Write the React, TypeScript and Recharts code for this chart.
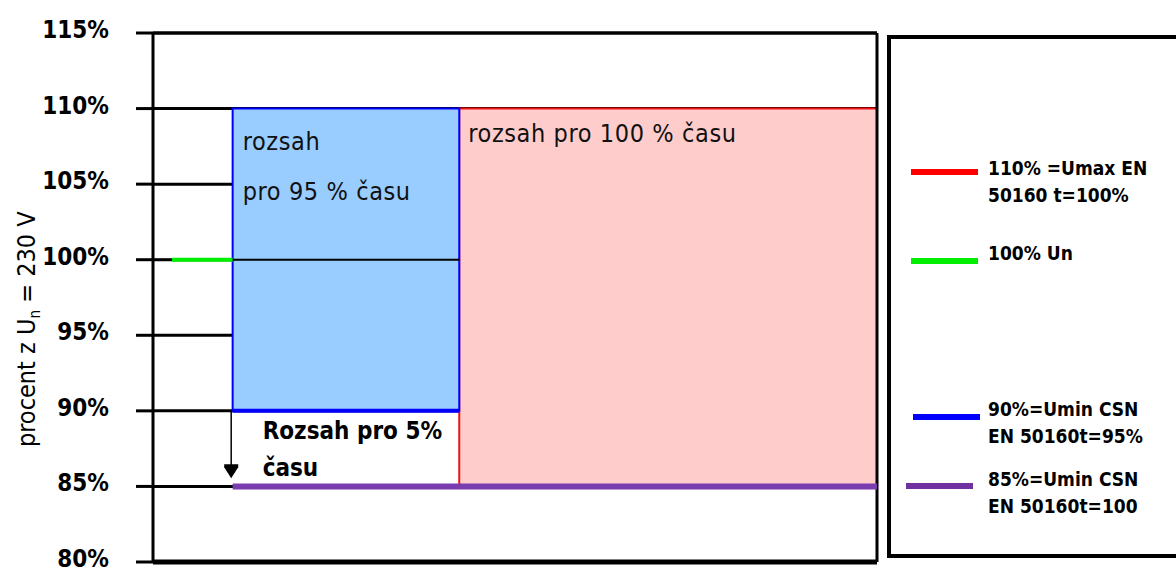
import React from "react";
import {
  LineChart,
  Line,
  XAxis,
  YAxis,
  CartesianGrid,
  ReferenceArea,
  ReferenceLine,
  ReferenceDot,
  Legend,
} from "recharts";

// y axis (percent of Un = 230 V)
const yTicks = [80, 85, 90, 95, 100, 105, 110, 115];

// bands, x is just a position along the plot (0..100)
const band95X = [11, 42.3];
const band95Y = [90, 110];
const band100X = [42.3, 100];
const band100Y = [85, 110];
const band5X = [11, 42.3];
const band5Y = [85, 90];

// limit lines
const unLine = [
  { x: 2.6, y: 100 },
  { x: 11, y: 100 },
];
const blackLine100 = [
  { x: 0, y: 100 },
  { x: 42.3, y: 100 },
];
const umin95Line = [
  { x: 11, y: 90 },
  { x: 42.3, y: 90 },
];
const umin100Line = [
  { x: 11, y: 85 },
  { x: 100.4, y: 85 },
];

// arrow from 90% down to 85%
const arrowX = 10.8;
const arrowShaftY = [90, 86.4];
const arrowHeadY = 86;

const band95Text = ["rozsah", "pro 95 % času"];
const band100Text = ["rozsah pro 100 % času"];
const band5Text = ["Rozsah pro 5%", "času"];

const legendItems = [
  { color: "#ff0000", lines: ["110% =Umax EN", "50160 t=100%"] },
  { color: "#00ee00", lines: ["100% Un"] },
  { color: "#0000ff", lines: ["90%=Umin CSN", "EN 50160t=95%"] },
  { color: "#7030a0", lines: ["85%=Umin CSN", "EN 50160t=100"] },
];

const FONT = "'DejaVu Sans Condensed', 'DejaVu Sans', sans-serif";

const makeTextLabel =
  (lines: string[], dx: number, dys: number[], opts: { size: number; weight: string; fill: string; spacing?: number }) =>
  (props: any) => {
    const vb = props.viewBox || {};
    return (
      <g>
        {lines.map((t, i) => (
          <text
            key={i}
            x={vb.x + dx}
            y={vb.y + dys[i]}
            fontFamily={FONT}
            fontStretch="condensed"
            fontSize={opts.size}
            fontWeight={opts.weight}
            letterSpacing={opts.spacing ?? 0}
            fill={opts.fill}
          >
            {t}
          </text>
        ))}
      </g>
    );
  };

const YTick = (props: any) => {
  const { x, y, payload } = props;
  return (
    <text
      x={x}
      y={y}
      dy={5}
      textAnchor="end"
      fontFamily={FONT}
      fontStretch="condensed"
      fontSize={24}
      fontWeight="bold"
      fill="#000"
    >
      {`${payload.value}%`}
    </text>
  );
};

const YLabel = (props: any) => {
  const vb = props.viewBox || { x: 0, y: 33, width: 153, height: 530 };
  const cx = 35;
  const cy = vb.y + vb.height * 0.56;
  return (
    <text
      x={cx}
      y={cy}
      transform={`rotate(-90, ${cx}, ${cy})`}
      textAnchor="middle"
      fontFamily={FONT}
      fontStretch="condensed"
      fontSize={25}
      fill="#000"
    >
      <tspan>procent z U</tspan>
      <tspan fontSize={15} dy={5}>n</tspan>
      <tspan dy={-5}> = 230 V</tspan>
    </text>
  );
};

const ArrowHead = (props: any) => {
  const { cx, cy } = props;
  return (
    <polygon
      points={`${cx - 7},${cy - 7} ${cx + 7},${cy - 7} ${cx + 7},${cy - 4} ${cx},${cy + 7} ${cx - 7},${cy - 4}`}
      fill="#000"
    />
  );
};

const LegendBox = () => {
  const rowTops = [117, 202, 358, 428];
  const lineTops = [13, 17, 17, 16];
  const lineLefts = [20, 20, 22, 15];
  return (
    <div
      style={{
        position: "relative",
        width: 300,
        height: 523,
        border: "4px solid #000",
        boxSizing: "border-box",
        background: "#fff",
        fontFamily: FONT,
        fontStretch: "condensed",
        fontSize: 19,
        fontWeight: "bold",
        color: "#000",
      }}
    >
      {legendItems.map((it, i) => (
        <div key={i} style={{ position: "absolute", left: 0, top: rowTops[i], width: 300 }}>
          <div
            style={{
              position: "absolute",
              left: lineLefts[i],
              top: lineTops[i],
              width: 67,
              height: 6,
              background: it.color,
            }}
          />
          {it.lines.map((l, j) => (
            <div
              key={j}
              style={{
                position: "absolute",
                left: 97,
                top: j * 27,
                lineHeight: "24px",
                whiteSpace: "nowrap",
              }}
            >
              {l}
            </div>
          ))}
        </div>
      ))}
    </div>
  );
};

export default function App() {
  return (
    <div style={{ position: "absolute", left: 0, top: 0, width: 1176, height: 572, background: "#fff" }}>
      <LineChart width={1176} height={572} margin={{ top: 33, right: 299, bottom: 10, left: 0 }}>
        <CartesianGrid horizontal vertical={false} stroke="#000" strokeWidth={3} />
        <XAxis type="number" dataKey="x" domain={[0, 100]} hide allowDataOverflow />
        <YAxis
          type="number"
          domain={[80, 115]}
          ticks={yTicks}
          interval={0}
          width={153}
          tickSize={17}
          tickMargin={27}
          tick={YTick}
          tickLine={{ stroke: "#000", strokeWidth: 3 }}
          axisLine={{ stroke: "#000", strokeWidth: 3 }}
          label={YLabel}
        />
        <ReferenceArea
          x1={band100X[0]}
          x2={band100X[1]}
          y1={band100Y[0]}
          y2={band100Y[1]}
          fill="#ffcccc"
          fillOpacity={1}
          stroke="#ee1111"
          strokeWidth={2}
          label={makeTextLabel(band100Text, 9, [33], { size: 25, weight: "normal", fill: "#111", spacing: 0.6 })}
        />
        <ReferenceArea
          x1={band95X[0]}
          x2={band95X[1]}
          y1={band95Y[0]}
          y2={band95Y[1]}
          fill="#99ccff"
          fillOpacity={1}
          stroke="#0000ff"
          strokeWidth={2}
          label={makeTextLabel(band95Text, 10, [41, 91], { size: 25, weight: "normal", fill: "#111", spacing: 0.6 })}
        />
        <ReferenceArea
          x1={band5X[0]}
          x2={band5X[1]}
          y1={band5Y[0]}
          y2={band5Y[1]}
          fill="none"
          stroke="none"
          label={makeTextLabel(band5Text, 30, [28, 65], { size: 24, weight: "bold", fill: "#000" })}
        />
        <ReferenceLine y={115} stroke="#000" strokeWidth={3} />
        <ReferenceLine y={80} stroke="#000" strokeWidth={5} />
        <ReferenceLine x={100} stroke="#000" strokeWidth={3} />
        <ReferenceLine
          segment={[
            { x: arrowX, y: arrowShaftY[0] },
            { x: arrowX, y: arrowShaftY[1] },
          ]}
          stroke="#000"
          strokeWidth={1.5}
        />
        <ReferenceDot x={arrowX} y={arrowHeadY} r={7} shape={ArrowHead} />
        <Line data={blackLine100} dataKey="y" stroke="#000" strokeWidth={2} dot={false} isAnimationActive={false} legendType="none" />
        <Line data={unLine} dataKey="y" stroke="#00ee00" strokeWidth={4} dot={false} isAnimationActive={false} />
        <Line data={umin95Line} dataKey="y" stroke="#0000ff" strokeWidth={4} dot={false} isAnimationActive={false} />
        <Line data={umin100Line} dataKey="y" stroke="#7a3db0" strokeWidth={6} dot={false} isAnimationActive={false} />
        <Legend
          layout="horizontal"
          verticalAlign="middle"
          align="center"
          content={() => <LegendBox />}
          wrapperStyle={{ position: "absolute", left: 887, top: 35, width: 300, height: 523 }}
        />
      </LineChart>
    </div>
  );
}
